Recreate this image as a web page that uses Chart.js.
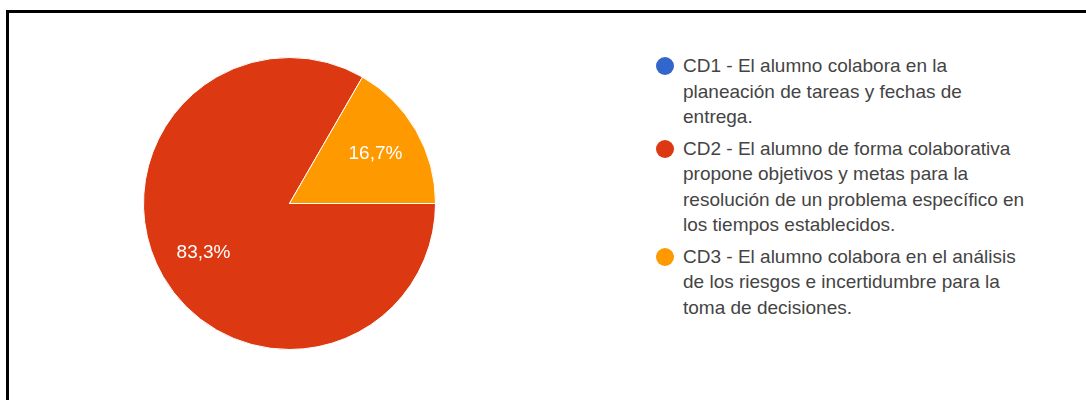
<!DOCTYPE html>
<html>
<head>
<meta charset="utf-8">
<script src="https://cdn.jsdelivr.net/npm/chart.js@4/dist/chart.umd.min.js"></script>
<style>
  html, body { margin: 0; padding: 0; background: #fff; overflow: hidden; }
  body { width: 1086px; height: 400px; position: relative; font-family: "Liberation Sans", Arial, sans-serif; }
  #frame { position: absolute; left: 6px; top: 10px; width: 1200px; height: 500px;
           border-top: 3px solid #000; border-left: 3px solid #000; }
  #pieBox { position: absolute; left: 143px; top: 57px; width: 293px; height: 293px; }
  #legend { position: absolute; left: 655px; top: 53px; margin: 0; padding: 0; list-style: none;
            font-size: 19px; line-height: 25.5px; color: #444; }
  #legend li { position: relative; padding-left: 28px; margin-bottom: 6px; white-space: nowrap; }
  #legend .dot { position: absolute; left: 1px; top: 4px; width: 18px; height: 18px; border-radius: 50%; }
</style>
</head>
<body>
<div id="frame"></div>
<div id="pieBox"><canvas id="myChart"></canvas></div>
<ul id="legend"></ul>
<script>
const labels = [
    ['CD1 - El alumno colabora en la', 'planeación de tareas y fechas de', 'entrega.'],
    ['CD2 - El alumno de forma colaborativa', 'propone objetivos y metas para la', 'resolución de un problema específico en', 'los tiempos establecidos.'],
    ['CD3 - El alumno colabora en el análisis', 'de los riesgos e incertidumbre para la', 'toma de decisiones.']
];
const values = [0, 5, 1];
const colors = ['#3366cc', '#dc3912', '#ff9900'];

// porcentajes dentro de cada porción
const pctLabels = {
    id: 'pctLabels',
    afterDatasetsDraw(chart) {
        const ctx = chart.ctx;
        const data = chart.data.datasets[0].data;
        const total = data.reduce((a, b) => a + b, 0);
        ctx.save();
        ctx.fillStyle = '#fff';
        ctx.font = '19px "Liberation Sans", Arial, sans-serif';
        ctx.textAlign = 'center';
        ctx.textBaseline = 'middle';
        chart.getDatasetMeta(0).data.forEach((arc, i) => {
            if (!data[i]) return;
            const p = arc.getProps(['x', 'y', 'startAngle', 'endAngle', 'outerRadius'], true);
            const mid = (p.startAngle + p.endAngle) / 2;
            const r = p.outerRadius * 0.68;
            const txt = (data[i] / total * 100).toFixed(1).replace('.', ',') + '%';
            ctx.fillText(txt, p.x + Math.cos(mid) * r, p.y + Math.sin(mid) * r);
        });
        ctx.restore();
    }
};

const legend = document.getElementById('legend');
labels.forEach((lines, i) => {
    const li = document.createElement('li');
    li.innerHTML = '<span class="dot" style="background:' + colors[i] + '"></span>' + lines.join('<br>');
    legend.appendChild(li);
});

const config = {
    type: 'pie',
    data: {
        labels: labels.map(l => l.join(' ')),
        datasets: [{
            data: values,
            backgroundColor: colors,
            borderColor: '#fff',
            borderWidth: 1,
            hoverOffset: 0
        }]
    },
    options: {
        responsive: true,
        maintainAspectRatio: false,
        animation: false,
        rotation: 90,
        plugins: {
            legend: { display: false },
            tooltip: { enabled: false }
        }
    },
    plugins: [pctLabels]
};

const myChart = new Chart(document.getElementById('myChart'), config);
</script>
</body>
</html>
